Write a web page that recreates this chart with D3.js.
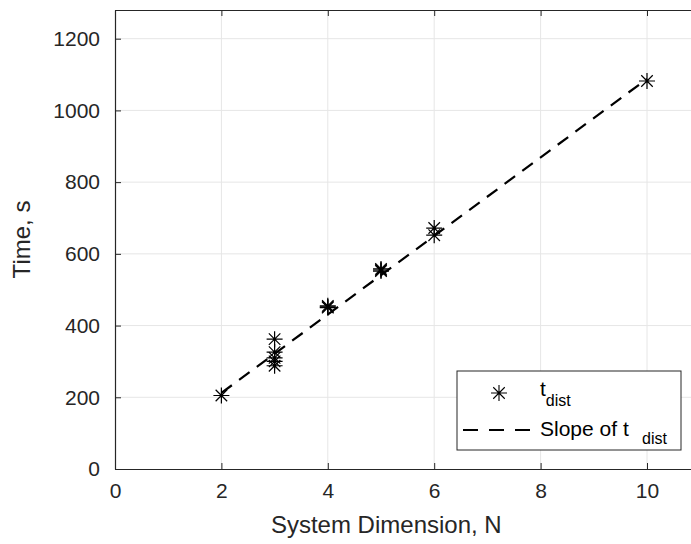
<!DOCTYPE html>
<html>
<head>
<meta charset="utf-8">
<script src="https://cdn.jsdelivr.net/npm/d3@7"></script>
<style>
  body { margin: 0; background: #fff; }
  svg { display: block; font-family: "Liberation Sans", Arial, sans-serif; }
</style>
</head>
<body>
<div id="chart"></div>
<script>
// Measured points (system dimension vs. distribution time)
var dimN  = [2, 3, 3, 3, 3, 3, 4, 4, 4, 5, 5, 5, 6, 6, 10];
var tDist = [205, 362, 326, 310, 300, 288, 450, 455, 452, 552, 558, 555, 672, 652, 1082];

// Fitted slope line
var slopeN = [2, 10];
var slopeT = [212, 1088];

var xTicks = [0, 2, 4, 6, 8, 10];
var yTicks = [0, 200, 400, 600, 800, 1000, 1200];

var W = 691, H = 544;
var plotLeft = 115, plotBottom = 469, plotTop = 10;

var x = d3.scaleLinear().domain([0, 12]).range([plotLeft, plotLeft + 12 * 53.2]);
var y = d3.scaleLinear().domain([0, 1280]).range([plotBottom, plotTop]);

var svg = d3.select('#chart').append('svg')
    .attr('width', W)
    .attr('height', H);

var ink = '#262626';

// Grid lines
var grid = svg.append('g').attr('stroke', '#e6e6e6').attr('stroke-width', 1);
grid.selectAll('.gx').data(xTicks.slice(1))
    .enter().append('line')
    .attr('x1', d => x(d)).attr('x2', d => x(d))
    .attr('y1', y(1280)).attr('y2', y(0));
grid.selectAll('.gy').data(yTicks.slice(1))
    .enter().append('line')
    .attr('x1', x(0)).attr('x2', x(12))
    .attr('y1', d => y(d)).attr('y2', d => y(d));

// Axes (ticks inward, like the original)
var xAxis = d3.axisBottom(x).tickValues(xTicks).tickSizeInner(-6).tickSizeOuter(0).tickPadding(14);
var yAxis = d3.axisLeft(y).tickValues(yTicks).tickFormat(d3.format('d'))
    .tickSizeInner(-6).tickSizeOuter(0).tickPadding(15);

var gx = svg.append('g').attr('transform', 'translate(0,' + plotBottom + ')').call(xAxis);
var gy = svg.append('g').attr('transform', 'translate(' + plotLeft + ',0)').call(yAxis);
var gTop = svg.append('g').attr('transform', 'translate(0,' + plotTop + ')')
    .call(d3.axisTop(x).tickValues(xTicks).tickSizeInner(-6).tickSizeOuter(0).tickFormat(''));

[gx, gy, gTop].forEach(function (g) {
    g.select('.domain').attr('stroke', ink).attr('stroke-width', 1.2);
    g.selectAll('.tick line').attr('stroke', ink);
    g.selectAll('.tick text').attr('fill', ink).style('font-size', '21px');
});

// Axis labels
svg.append('text')
    .attr('x', x(5.1)).attr('y', 533)
    .attr('text-anchor', 'middle')
    .attr('fill', ink)
    .style('font-size', '24px')
    .text('System Dimension, N');

svg.append('text')
    .attr('transform', 'translate(30,' + ((plotTop + plotBottom) / 2) + ') rotate(-90)')
    .attr('text-anchor', 'middle')
    .attr('fill', ink)
    .style('font-size', '24px')
    .text('Time, s');

// Slope line
var line = d3.line().x(d => x(d[0])).y(d => y(d[1]));
svg.append('path')
    .datum(d3.zip(slopeN, slopeT))
    .attr('d', line)
    .attr('fill', 'none')
    .attr('stroke', '#000')
    .attr('stroke-width', 2.2)
    .attr('stroke-dasharray', '13,9');

// Asterisk marker
function star(r) {
    var d = r * 0.72;
    return 'M' + (-r) + ',0H' + r + 'M0,' + (-r) + 'V' + r +
        'M' + (-d) + ',' + (-d) + 'L' + d + ',' + d +
        'M' + (-d) + ',' + d + 'L' + d + ',' + (-d);
}

svg.append('g').selectAll('path')
    .data(d3.zip(dimN, tDist))
    .enter().append('path')
    .attr('transform', d => 'translate(' + x(d[0]) + ',' + y(d[1]) + ')')
    .attr('d', star(8))
    .attr('fill', 'none')
    .attr('stroke', '#000')
    .attr('stroke-width', 1.2);

// Legend
var lg = svg.append('g');
lg.append('rect')
    .attr('x', 457).attr('y', 371).attr('width', 224).attr('height', 79)
    .attr('fill', '#fff').attr('stroke', ink).attr('stroke-width', 1);
lg.append('path')
    .attr('transform', 'translate(499,393)')
    .attr('d', star(8))
    .attr('stroke', '#000').attr('stroke-width', 1.1);
var t1 = lg.append('text').attr('x', 540).attr('y', 396).attr('fill', '#000').style('font-size', '21px');
t1.append('tspan').text('t');
t1.append('tspan').attr('dy', 10).style('font-size', '16px').text('dist');

lg.append('line')
    .attr('x1', 463).attr('x2', 538).attr('y1', 430).attr('y2', 430)
    .attr('stroke', '#000').attr('stroke-width', 2.2).attr('stroke-dasharray', '15,11');
var t2 = lg.append('text').attr('x', 540).attr('y', 436).attr('fill', '#000').style('font-size', '21px');
t2.append('tspan').text('Slope of t');
t2.append('tspan').attr('x', 642).attr('dy', 8).style('font-size', '16px').text('dist');
</script>
</body>
</html>
